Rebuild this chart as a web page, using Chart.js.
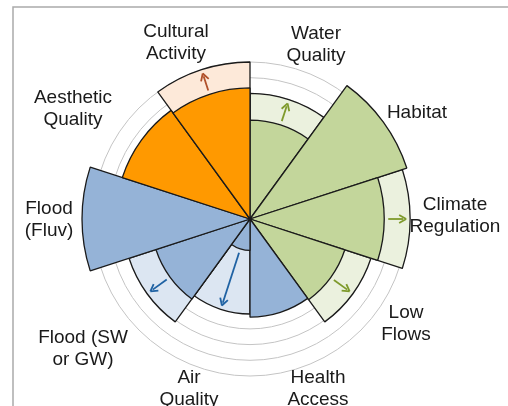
<!DOCTYPE html>
<html>
<head>
<meta charset="utf-8">
<script src="https://cdn.jsdelivr.net/npm/chart.js@4"></script>
<style>
  html, body { margin: 0; padding: 0; background: #fff; }
  #wrap { width: 508px; height: 406px; }
</style>
</head>
<body>
<div id="wrap"><canvas id="rose" width="508" height="406"></canvas></div>
<script>
// categories, clockwise from the top
const categories = ['Water Quality', 'Habitat', 'Climate Regulation', 'Low Flows', 'Health Access',
                    'Air Quality', 'Flood (SW or GW)', 'Flood (Fluv)', 'Aesthetic Quality', 'Cultural Activity'];
// current level of each service
const current = [6.3, 10.5, 8.55, 6.35, 6.25, 2.0, 6.3, 10.7, 8.55, 8.35];
// potential level (0 = no change shown)
const potential = [8.0, 0, 10.2, 8.1, 0, 6.05, 8.1, 0, 0, 10.0];
// group of each service: g = green, b = blue, o = orange
const groups = ['g', 'g', 'g', 'g', 'b', 'b', 'b', 'b', 'o', 'o'];
// circles of the radial grid
const gridTicks = [0, 7, 8, 9, 10];
const scaleMax = 10.7;

const fillColors = { g: '#C3D69B', b: '#95B3D7', o: '#FF9900' };
const lightColors = { g: '#EBF1DE', b: '#DCE6F2', o: '#FDE9D9' };
const arrowColors = { g: '#7E9A2B', b: '#1F62A3', o: '#B0502A' };

// label text lines and anchor (centre x, first baseline y)
const labelLines = [['Water', 'Quality'], ['Habitat'], ['Climate', 'Regulation'], ['Low', 'Flows'],
                    ['Health', 'Access'], ['Air', 'Quality'], ['Flood (SW', 'or GW)'], ['Flood', '(Fluv)'],
                    ['Aesthetic', 'Quality'], ['Cultural', 'Activity']];
const labelPos = [[316, 39], [417, 118], [455, 210], [406, 318], [318, 383],
                  [189, 383], [83, 343], [49, 214], [73, 103], [176, 37]];

// frame, arrows and labels
const extras = {
    id: 'extras',
    beforeDraw(chart) {
        const ctx = chart.ctx;
        ctx.save();
        ctx.strokeStyle = '#ababab';
        ctx.lineWidth = 1.5;
        ctx.beginPath();
        ctx.moveTo(13, 406);
        ctx.lineTo(13, 7);
        ctx.lineTo(508, 7);
        ctx.stroke();
        ctx.restore();
    },
    afterDatasetsDraw(chart) {
        const ctx = chart.ctx;
        const inner = chart.getDatasetMeta(0).data;
        const outer = chart.getDatasetMeta(1).data;
        ctx.save();
        potential.forEach((p, i) => {
            if (!p) return;
            const a = inner[i], b = outer[i];
            const ang = (a.startAngle + a.endAngle) / 2;
            const r1 = a.outerRadius + 4, r2 = b.outerRadius - 4;
            const cx = a.x, cy = a.y;
            const x1 = cx + Math.cos(ang) * r1, y1 = cy + Math.sin(ang) * r1;
            const x2 = cx + Math.cos(ang) * r2, y2 = cy + Math.sin(ang) * r2;
            const col = arrowColors[groups[i]];
            ctx.strokeStyle = col;
            ctx.fillStyle = col;
            ctx.lineWidth = 1.8;
            ctx.beginPath();
            ctx.moveTo(x1, y1);
            ctx.lineTo(x2 - Math.cos(ang) * 3, y2 - Math.sin(ang) * 3);
            ctx.stroke();
            // head
            const hl = 7, hw = 4;
            const bx = x2 - Math.cos(ang) * hl, by = y2 - Math.sin(ang) * hl;
            ctx.beginPath();
            ctx.moveTo(x2, y2);
            ctx.lineTo(bx - Math.sin(ang) * hw, by + Math.cos(ang) * hw);
            ctx.moveTo(x2, y2);
            ctx.lineTo(bx + Math.sin(ang) * hw, by - Math.cos(ang) * hw);
            ctx.stroke();
        });
        ctx.restore();
    },
    afterDraw(chart) {
        const ctx = chart.ctx;
        ctx.save();
        ctx.fillStyle = '#1a1a1a';
        ctx.font = '19px "Liberation Sans", Arial, sans-serif';
        ctx.textAlign = 'center';
        ctx.textBaseline = 'alphabetic';
        labelLines.forEach((lines, i) => {
            lines.forEach((t, j) => ctx.fillText(t, labelPos[i][0], labelPos[i][1] + j * 22));
        });
        ctx.restore();
    }
};

new Chart(document.getElementById('rose'), {
    type: 'polarArea',
    data: {
        labels: categories,
        datasets: [
            {
                data: current,
                backgroundColor: groups.map(g => fillColors[g]),
                borderColor: '#1a1a1a',
                borderWidth: 1.3
            },
            {
                data: potential,
                backgroundColor: groups.map(g => lightColors[g]),
                borderColor: '#1a1a1a',
                borderWidth: potential.map(p => p ? 1.3 : 0)
            }
        ]
    },
    options: {
        responsive: false,
        animation: false,
        layout: { padding: { top: 51, bottom: 19, left: 82, right: 90 } },
        plugins: {
            legend: { display: false },
            tooltip: { enabled: false }
        },
        scales: {
            r: {
                min: 0,
                max: scaleMax,
                ticks: { display: false },
                afterBuildTicks: scale => { scale.ticks = gridTicks.map(v => ({ value: v })); },
                grid: { circular: true, color: '#c4c4c4', lineWidth: 1 },
                angleLines: { display: false },
                pointLabels: { display: false }
            }
        }
    },
    plugins: [extras]
});
</script>
</body>
</html>
